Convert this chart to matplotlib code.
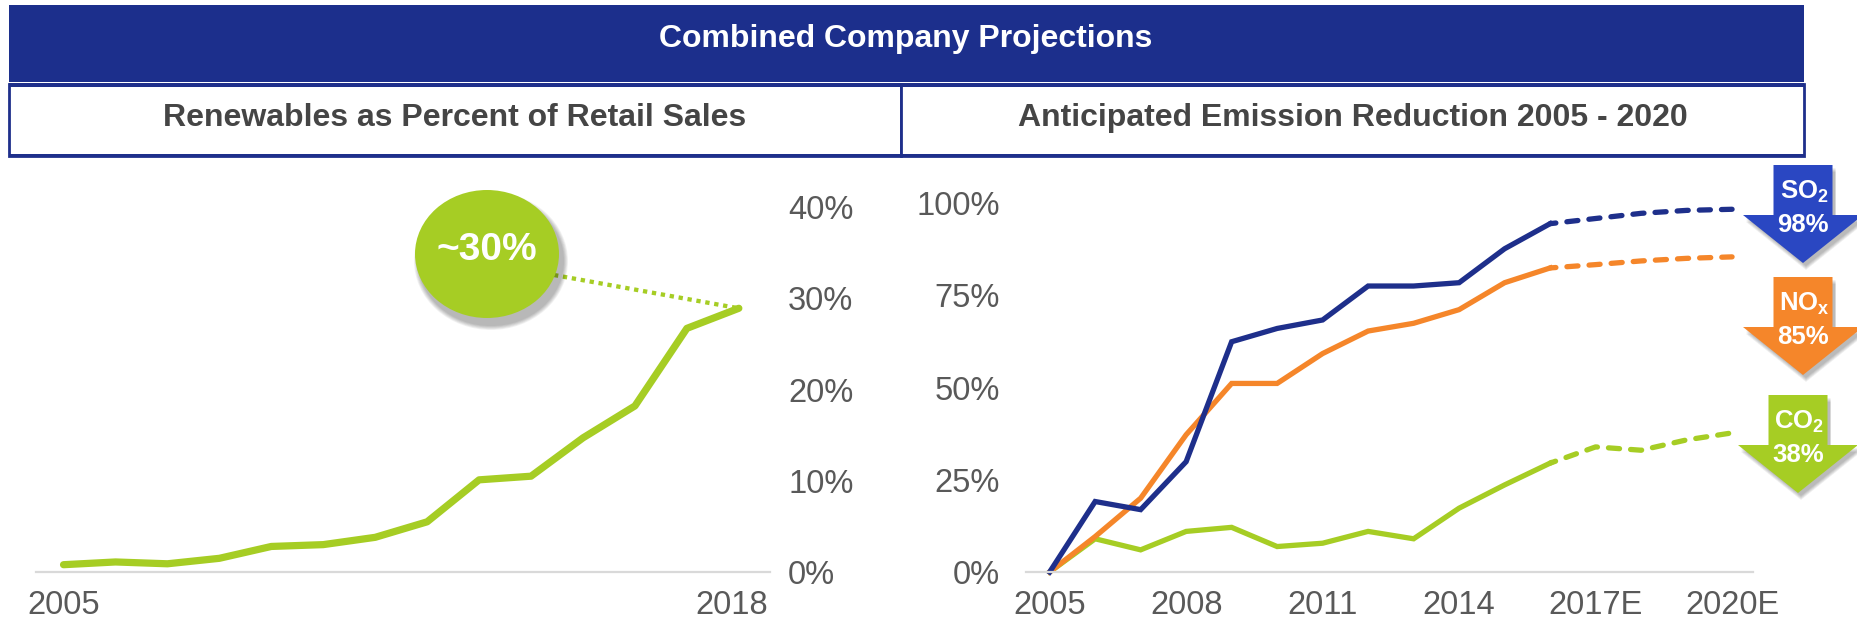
import numpy as np
import matplotlib.pyplot as plt
from matplotlib.patches import Rectangle, Polygon, Ellipse, ConnectionPatch
from matplotlib.transforms import ScaledTranslation

plt.rcParams['font.family'] = ['Liberation Sans', 'DejaVu Sans']
plt.rcParams['mathtext.fontset'] = 'custom'
plt.rcParams['mathtext.rm'] = 'Liberation Sans:bold'
plt.rcParams['mathtext.bf'] = 'Liberation Sans:bold'

# --- data ---
renew_years = list(range(2005, 2019))
renew_pct = [0.8, 1.1, 0.9, 1.5, 2.8, 3.0, 3.8, 5.5, 10.1, 10.5, 14.7, 18.2, 26.7, 28.9]
renew_ticks = [2005, 2018]
renew_yticks = [0, 10, 20, 30, 40]

hist_years = list(range(2005, 2017))
proj_years = list(range(2016, 2021))
so2_hist = [0, 19.1, 16.9, 29.9, 62.4, 66.0, 68.3, 77.5, 77.5, 78.4, 87.6, 94.4]
so2_proj = [94.4, 95.8, 97.2, 98.0, 98.3]
nox_hist = [0, 9.6, 20.0, 37.2, 51.1, 51.1, 59.2, 65.3, 67.4, 71.1, 78.4, 82.4]
nox_proj = [82.4, 83.3, 84.3, 85.0, 85.4]
co2_hist = [0, 9.0, 6.0, 11.0, 12.1, 6.9, 7.8, 11.0, 9.0, 17.3, 23.6, 29.5]
co2_proj = [29.5, 33.9, 33.0, 35.8, 37.7]
emis_ticks = [2005, 2008, 2011, 2014, 2017, 2020]
emis_ticklabels = ['2005', '2008', '2011', '2014', '2017E', '2020E']
emis_yticks = [0, 25, 50, 75, 100]

gas_names = [r'$\mathbf{SO_2}$', r'$\mathbf{NO_x}$', r'$\mathbf{CO_2}$']
gas_cuts = ['98%', '85%', '38%']

NAVY = '#1e2f8b'
ORANGE = '#f5862a'
GREEN = '#a6cd24'
ARROW_BLUE = '#2a47c2'
GREY_TXT = '#595959'
AXIS_GREY = '#d9d9d9'

W, H = 1858, 625
fig = plt.figure(figsize=(W / 100, H / 100), dpi=100)


def fx(x):
    return x / W


def fy(y):
    return 1 - y / H


def px_rect(x0, y0, x1, y1, **kw):
    return Rectangle((fx(x0), fy(y1)), (x1 - x0) / W, (y1 - y0) / H,
                     transform=fig.transFigure, **kw)


# header bars
fig.patches.append(px_rect(9, 5, 1804, 82, facecolor='#1c2f8c', edgecolor='none'))
fig.text(fx(906), fy(39), 'Combined Company Projections', color='white',
         fontsize=23, fontweight='bold', ha='center', va='center')
for x0, x1, label in [(9, 901, 'Renewables as Percent of Retail Sales'),
                      (901, 1804, 'Anticipated Emission Reduction 2005 - 2020')]:
    fig.patches.append(px_rect(x0, 84, x1, 156, facecolor='white',
                               edgecolor=NAVY, linewidth=2))
    fig.text(fx((x0 + x1) / 2), fy(118), label, color='#454545',
             fontsize=23, fontweight='bold', ha='center', va='center')
fig.patches.append(px_rect(9, 83, 1804, 87, facecolor=NAVY, edgecolor='none'))
fig.patches.append(px_rect(9, 154, 1804, 157, facecolor=NAVY, edgecolor='none'))


def style_axes(ax):
    for s in ['top', 'right', 'left']:
        ax.spines[s].set_visible(False)
    ax.spines['bottom'].set_color(AXIS_GREY)
    ax.spines['bottom'].set_linewidth(1.6)
    ax.tick_params(length=0, labelsize=23.5, labelcolor=GREY_TXT)


# left chart: renewables
ax1 = fig.add_axes([fx(36), fy(572), (770 - 36) / W, (572 - 207) / H])
ax1.plot(renew_years, renew_pct, color=GREEN, linewidth=5.2,
         solid_capstyle='round', clip_on=False)
ax1.set_xlim(2004.47, 2018.6)
ax1.set_ylim(0, 40)
ax1.set_xticks(renew_ticks)
ax1.set_yticks(renew_yticks)
ax1.set_yticklabels([f'{v}%' for v in renew_yticks])
ax1.yaxis.tick_right()
style_axes(ax1)
ax1.tick_params(axis='y', pad=13)
ax1.tick_params(axis='x', pad=13)
for lab in ax1.get_yticklabels():
    lab.set_horizontalalignment('left')
last_lab = ax1.get_xticklabels()[-1]
last_lab.set_transform(last_lab.get_transform()
                       + ScaledTranslation(-5 / 72, 0, fig.dpi_scale_trans))

# callout bubble
ex, ey, ew, eh = 487, 254, 144, 128
for k in range(6):
    grow = 10 - k * 1.6
    fig.patches.append(Ellipse((fx(ex + 4), fy(ey + 7)), (ew + grow) / W, (eh + grow) / H,
                               transform=fig.transFigure, facecolor='#000000',
                               alpha=0.05, edgecolor='none'))
fig.patches.append(Ellipse((fx(ex), fy(ey)), ew / W, eh / H, transform=fig.transFigure,
                           facecolor=GREEN, edgecolor='none'))
fig.text(fx(ex), fy(ey - 4), '~30%', color='white', fontsize=28,
         fontweight='bold', ha='center', va='center')
con = ConnectionPatch(xyA=(fx(554), fy(275)), coordsA=fig.transFigure,
                      xyB=(renew_years[-1], renew_pct[-1]), coordsB=ax1.transData,
                      color=GREEN, linewidth=3.1, linestyle=(0, (1, 1.1)),
                      capstyle='butt')
fig.add_artist(con)

# right chart: emissions
ax2 = fig.add_axes([fx(1026), fy(572), (1753 - 1026) / W, (572 - 203) / H])
for hist, proj, col in [(co2_hist, co2_proj, GREEN), (nox_hist, nox_proj, ORANGE),
                        (so2_hist, so2_proj, NAVY)]:
    ax2.plot(hist_years, hist, color=col, linewidth=3.8, solid_joinstyle='miter',
             clip_on=False)
    ax2.plot(proj_years, proj, color=col, linewidth=3.8, linestyle=(1.0, (2.1, 2.1)),
             dash_capstyle='round', clip_on=False)
ax2.set_xlim(2004.48, 2020.46)
ax2.set_ylim(0, 100)
ax2.set_xticks(emis_ticks)
ax2.set_xticklabels(emis_ticklabels)
ax2.set_yticks(emis_yticks)
ax2.set_yticklabels([f'{v}%' for v in emis_yticks])
style_axes(ax2)
ax2.tick_params(axis='y', pad=19)
ax2.tick_params(axis='x', pad=13)

# reduction arrows
arrow_specs = [(1803, 165, ARROW_BLUE), (1803, 277, ORANGE), (1798, 395, GREEN)]
for (cx, top, col), name, cut in zip(arrow_specs, gas_names, gas_cuts):
    head, tip = top + 50, top + 98
    pts = [(cx - 29.5, top), (cx + 29.5, top), (cx + 29.5, head), (cx + 60, head),
           (cx, tip), (cx - 60, head), (cx - 29.5, head)]
    for k in range(5):
        d = 3 + k
        sh = [(fx(x + 3), fy(y + d)) for x, y in pts]
        fig.patches.append(Polygon(sh, closed=True, transform=fig.transFigure,
                                   facecolor='#000000', alpha=0.06, edgecolor='none'))
    fig.patches.append(Polygon([(fx(x), fy(y)) for x, y in pts], closed=True,
                               transform=fig.transFigure, facecolor=col, edgecolor='none'))
    fig.text(fx(cx + 1), fy(top + 27), name, color='white', fontsize=18.5,
             ha='center', va='center')
    fig.text(fx(cx), fy(top + 60), cut, color='white', fontsize=18.5,
             fontweight='bold', ha='center', va='center')

fig.savefig('out.png', dpi=100)
